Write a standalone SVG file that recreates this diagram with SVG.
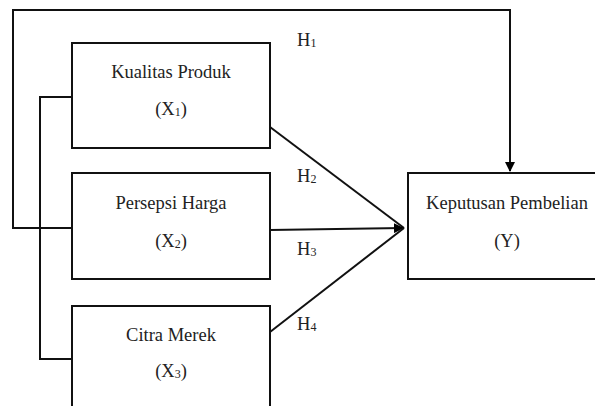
<svg xmlns="http://www.w3.org/2000/svg" width="595" height="406" viewBox="0 0 595 406">
<defs>
<marker id="ah" viewBox="0 0 10 10" refX="9" refY="5" markerWidth="5" markerHeight="5" orient="auto" markerUnits="strokeWidth">
<path d="M0,0 L10,5 L0,10 z" fill="#000"/>
</marker>
<style>
.box{fill:#fff;stroke:#111;stroke-width:2}
.ln{fill:none;stroke:#111;stroke-width:2}
.t{font-family:"Liberation Serif","Times New Roman",serif;font-size:18.5px;fill:#222;text-anchor:middle}
.h{font-family:"Liberation Serif","Times New Roman",serif;font-size:18.5px;fill:#222}
.sub{font-size:12px}
</style>
</defs>
<rect width="595" height="406" fill="#fff"/>
<g id="connectors">
<path class="ln" d="M72 228 H13 V10 H510 V171" marker-end="url(#ah)"/>
<path class="ln" d="M72 97 H40 V359 H72"/>
<path class="ln" d="M270 127 L404 228"/>
<path class="ln" d="M270 230 L403 228" marker-end="url(#ah)"/>
<path class="ln" d="M270 332 L404 228"/>
</g>
<g id="labels">
<text class="h" x="297" y="46">H<tspan class="sub" dy="1">1</tspan></text>
<text class="h" x="297" y="182">H<tspan class="sub" dy="1">2</tspan></text>
<text class="h" x="297" y="255">H<tspan class="sub" dy="1">3</tspan></text>
<text class="h" x="297" y="330">H<tspan class="sub" dy="1">4</tspan></text>
</g>
<g id="x1">
<rect class="box" x="72" y="43" width="198" height="105"/>
<text class="t" x="171" y="78">Kualitas Produk</text>
<text class="t" x="171" y="115">(X<tspan class="sub" dy="1">1</tspan><tspan dy="-1">)</tspan></text>
</g>
<g id="x2">
<rect class="box" x="72" y="173" width="198" height="106"/>
<text class="t" x="171" y="209">Persepsi Harga</text>
<text class="t" x="171" y="247">(X<tspan class="sub" dy="1">2</tspan><tspan dy="-1">)</tspan></text>
</g>
<g id="x3">
<path class="box" d="M72 408 V306 H270 V408"/>
<text class="t" x="171" y="341">Citra Merek</text>
<text class="t" x="171" y="377">(X<tspan class="sub" dy="1">3</tspan><tspan dy="-1">)</tspan></text>
</g>
<g id="y">
<path class="box" d="M598 173 H408 V279 H598"/>
<text class="t" x="507" y="209">Keputusan Pembelian</text>
<text class="t" x="507" y="247">(Y)</text>
</g>
</svg>
